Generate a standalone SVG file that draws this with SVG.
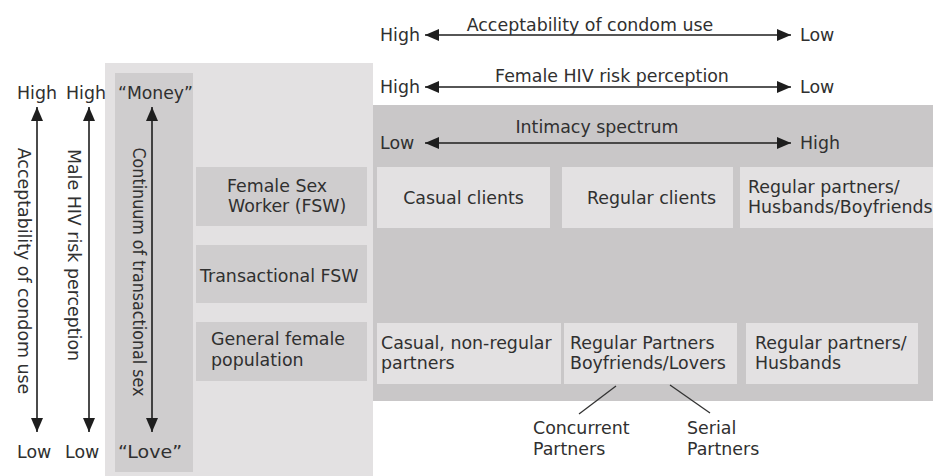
<svg xmlns="http://www.w3.org/2000/svg" width="933" height="476" viewBox="0 0 933 476">
  <defs>
    <style>
      text { font-family: "DejaVu Sans", Verdana, sans-serif; font-size: 17.4px; fill: #303030; }
      .panel-light { fill: #e3e1e2; }
      .panel-mid { fill: #cfcdce; }
      .panel-dark { fill: #c9c7c8; }
      .box-light { fill: #e3e1e2; }
      .box-mid { fill: #cfcdce; }
      .axis { stroke: #1e1e1e; stroke-width: 1.6; fill: none; marker-start: url(#head); marker-end: url(#head); }
      .branch { stroke: #333; stroke-width: 1.3; fill: none; }
    </style>
    <marker id="head" viewBox="0 0 14 12" refX="14" refY="6" markerWidth="14" markerHeight="12" markerUnits="userSpaceOnUse" orient="auto-start-reverse">
      <path d="M0,0 L14,6 L0,12 z" fill="#1e1e1e"/>
    </marker>
  </defs>

  <rect width="933" height="476" fill="#ffffff"/>

  <!-- background panels -->
  <g id="panels">
    <rect class="panel-light" x="105" y="63" width="268" height="413"/>
    <rect class="panel-mid" x="115" y="73" width="78" height="399"/>
    <rect class="panel-dark" x="373" y="105" width="560" height="296"/>
  </g>

  <!-- axes and branch lines -->
  <g id="connectors">
    <line class="axis" x1="425" y1="35" x2="791" y2="35"/>
    <line class="axis" x1="425" y1="87" x2="791" y2="87"/>
    <line class="axis" x1="425" y1="143" x2="791" y2="143"/>
    <line class="axis" x1="37" y1="107" x2="37" y2="432"/>
    <line class="axis" x1="89" y1="107" x2="89" y2="432"/>
    <line class="axis" x1="152" y1="107" x2="152" y2="432"/>
    <line class="branch" x1="616" y1="386" x2="579" y2="414"/>
    <line class="branch" x1="670" y1="385" x2="710" y2="413"/>
  </g>

  <!-- horizontal scales -->
  <g id="scale-condom-female">
    <text x="380" y="41">High</text>
    <text x="800" y="41">Low</text>
    <text x="590" y="31" text-anchor="middle">Acceptability of condom use</text>
  </g>
  <g id="scale-female-risk">
    <text x="380" y="93">High</text>
    <text x="800" y="93">Low</text>
    <text x="612" y="82" text-anchor="middle">Female HIV risk perception</text>
  </g>
  <g id="scale-intimacy">
    <text x="380" y="149">Low</text>
    <text x="800" y="149">High</text>
    <text x="597" y="133" text-anchor="middle">Intimacy spectrum</text>
  </g>

  <!-- vertical scales -->
  <g id="scale-condom-male">
    <text x="17" y="99">High</text>
    <text x="17" y="458">Low</text>
    <text transform="translate(18,271) rotate(90)" text-anchor="middle">Acceptability of condom use</text>
  </g>
  <g id="scale-male-risk">
    <text x="66" y="99">High</text>
    <text x="65" y="458">Low</text>
    <text transform="translate(68,255) rotate(90)" text-anchor="middle">Male HIV risk perception</text>
  </g>
  <g id="scale-transactional">
    <text x="118" y="99" textLength="75" lengthAdjust="spacingAndGlyphs">“Money”</text>
    <text x="118" y="458" textLength="64" lengthAdjust="spacingAndGlyphs">“Love”</text>
    <text transform="translate(133,272) rotate(90)" text-anchor="middle" textLength="249" lengthAdjust="spacingAndGlyphs">Continuum of transactional sex</text>
  </g>

  <!-- female categories -->
  <g id="fsw">
    <rect class="box-mid" x="196" y="167" width="171" height="59"/>
    <text x="227" y="192">Female Sex</text>
    <text x="228" y="212">Worker (FSW)</text>
  </g>
  <g id="transactional-fsw">
    <rect class="box-mid" x="196" y="245" width="171" height="58"/>
    <text x="200" y="282">Transactional FSW</text>
  </g>
  <g id="general-female">
    <rect class="box-mid" x="196" y="322" width="171" height="59"/>
    <text x="211" y="345">General female</text>
    <text x="211" y="366">population</text>
  </g>

  <!-- partner types: sex workers -->
  <g id="casual-clients">
    <rect class="box-light" x="377" y="167" width="173" height="61"/>
    <text x="463.5" y="204" text-anchor="middle">Casual clients</text>
  </g>
  <g id="regular-clients">
    <rect class="box-light" x="562" y="167" width="171" height="61"/>
    <text x="587" y="204">Regular clients</text>
  </g>
  <g id="regular-partners-fsw">
    <rect class="box-light" x="740" y="167" width="193" height="61"/>
    <text x="748" y="193">Regular partners/</text>
    <text x="748" y="213">Husbands/Boyfriends</text>
  </g>

  <!-- partner types: general population -->
  <g id="casual-partners">
    <rect class="box-light" x="377" y="323" width="184" height="61"/>
    <text x="381" y="349">Casual, non-regular</text>
    <text x="381" y="369">partners</text>
  </g>
  <g id="regular-partners-lovers">
    <rect class="box-light" x="564" y="323" width="173" height="61"/>
    <text x="570" y="349">Regular Partners</text>
    <text x="570" y="369">Boyfriends/Lovers</text>
  </g>
  <g id="regular-partners-husbands">
    <rect class="box-light" x="746" y="323" width="172" height="61"/>
    <text x="755" y="349">Regular partners/</text>
    <text x="755" y="369">Husbands</text>
  </g>

  <g id="concurrent">
    <text x="533" y="434">Concurrent</text>
    <text x="533" y="455">Partners</text>
  </g>
  <g id="serial">
    <text x="687" y="434">Serial</text>
    <text x="687" y="455">Partners</text>
  </g>
</svg>
